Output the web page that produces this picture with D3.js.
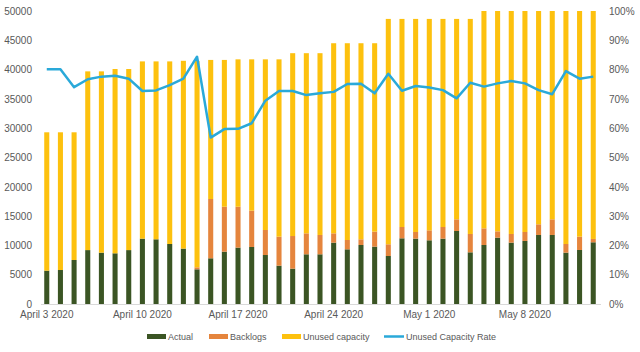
<!DOCTYPE html>
<meta charset="utf-8">
<style>
body { margin: 0; background: #fff; font: 10px "Liberation Sans", Arial, sans-serif; }
.axis text { fill: #595959; font-size: 10px; }
.axis path, .axis line { stroke: #d9d9d9; shape-rendering: crispEdges; }
.legend text { fill: #595959; font-size: 9px; }
</style>
<body>
<div id="chart"></div>
<script src="https://d3js.org/d3.v7.min.js"></script>
<script>

// days, April 3 2020 to May 13 2020
var days = ["2020-04-03","2020-04-04","2020-04-05","2020-04-06","2020-04-07","2020-04-08","2020-04-09",
  "2020-04-10","2020-04-11","2020-04-12","2020-04-13","2020-04-14","2020-04-15","2020-04-16",
  "2020-04-17","2020-04-18","2020-04-19","2020-04-20","2020-04-21","2020-04-22","2020-04-23",
  "2020-04-24","2020-04-25","2020-04-26","2020-04-27","2020-04-28","2020-04-29","2020-04-30",
  "2020-05-01","2020-05-02","2020-05-03","2020-05-04","2020-05-05","2020-05-06","2020-05-07",
  "2020-05-08","2020-05-09","2020-05-10","2020-05-11","2020-05-12","2020-05-13"];

var actual = [5690,5800,7510,9200,8760,8650,9200,11150,11040,10240,9450,5920,7800,8930,
  9620,9730,8360,6540,6030,8480,8480,10470,9330,10070,9790,8190,11210,11150,
  10870,11150,12460,8820,10070,11320,10470,10760,11780,11780,8760,9220,10530];

var backlogs = [0,0,0,0,0,0,0,0,0,0,0,340,10120,7670,
  6980,6200,4270,4950,5570,3580,3300,1590,1590,970,2560,2000,1930,1140,
  1700,1990,1990,3130,2840,1080,1480,1530,1820,2670,1480,2270,570];

var unused = [23610,23500,21790,30500,30940,31450,30900,30250,30360,31160,32050,35240,23730,25050,
  25150,25820,29120,30260,31200,30740,31020,32440,33580,33460,32150,38460,35510,36360,
  36080,35510,34200,36700,37090,37600,38050,37710,36400,35550,39760,38510,38900];

var unusedRate = [80.1,80.1,74.0,76.7,77.6,77.9,76.9,72.7,72.9,74.7,76.9,84.4,56.8,59.7,
  59.8,61.7,69.4,72.7,72.7,71.3,71.9,72.4,75.1,75.2,71.9,78.6,72.8,74.4,
  73.9,73.0,70.2,75.5,74.2,75.3,76.1,75.3,73.0,71.6,79.5,76.9,77.6];

var tickDays = ["2020-04-03","2020-04-10","2020-04-17","2020-04-24","2020-05-01","2020-05-08"];
var tickLabels = ["April 3 2020","April 10 2020","April 17 2020","April 24 2020","May 1 2020","May 8 2020"];

var seriesNames = ["Actual", "Backlogs", "Unused capacity"];
var seriesKeys = ["actual", "backlogs", "unused"];
var colors = ["#3b5524", "#e5853d", "#fdc10e"];
var lineColor = "#2aa9d9";

var width = 640, height = 352,
    margin = {top: 11, right: 40, bottom: 48, left: 40};

var rows = days.map(function(d, i) {
  return {day: d, actual: actual[i], backlogs: backlogs[i], unused: unused[i], rate: unusedRate[i] / 100};
});

var svg = d3.select("#chart").append("svg")
  .attr("width", width)
  .attr("height", height);

var x = d3.scaleBand().domain(days).range([margin.left, width - margin.right]).paddingInner(0.63).paddingOuter(0.31);
var y = d3.scaleLinear().domain([0, 50000]).range([height - margin.bottom, margin.top]);
var y2 = d3.scaleLinear().domain([0, 1]).range([height - margin.bottom, margin.top]);

var stacked = d3.stack().keys(seriesKeys)(rows);

svg.append("g").selectAll("g")
  .data(stacked)
  .enter().append("g")
  .attr("fill", function(d, i) { return colors[i]; })
  .selectAll("rect")
  .data(function(d) { return d; })
  .enter().append("rect")
  .attr("x", function(d) { return x(d.data.day); })
  .attr("y", function(d) { return y(d[1]); })
  .attr("width", x.bandwidth())
  .attr("height", function(d) { return y(d[0]) - y(d[1]); });

// x axis
svg.append("g")
  .attr("class", "axis")
  .attr("transform", "translate(0," + (height - margin.bottom) + ")")
  .call(d3.axisBottom(x).tickValues(tickDays).tickSize(0).tickPadding(7)
    .tickFormat(function(d) { return tickLabels[tickDays.indexOf(d)]; }));

// left axis
svg.append("g")
  .attr("class", "axis")
  .attr("transform", "translate(" + (margin.left - 8) + ",0)")
  .call(d3.axisLeft(y).tickValues(d3.range(0, 50001, 5000)).tickFormat(d3.format("d")).tickSize(0).tickPadding(0))
  .call(function(g) { g.select(".domain").remove(); });

// right axis
svg.append("g")
  .attr("class", "axis")
  .attr("transform", "translate(" + (width - margin.right + 9) + ",0)")
  .call(d3.axisRight(y2).ticks(10, "%").tickSize(0).tickPadding(0))
  .call(function(g) { g.select(".domain").remove(); });

// rate line
var line = d3.line()
  .x(function(d) { return x(d.day) + x.bandwidth() / 2; })
  .y(function(d) { return y2(d.rate); });

svg.append("path")
  .datum(rows)
  .attr("fill", "none")
  .attr("stroke", lineColor)
  .attr("stroke-width", 2.5)
  .attr("stroke-linejoin", "round")
  .attr("d", line);

// legend
var legend = svg.append("g").attr("class", "legend");
var legendX = [147, 209, 282];
seriesNames.forEach(function(name, i) {
  legend.append("rect")
    .attr("x", legendX[i]).attr("y", 334)
    .attr("width", 19).attr("height", 5)
    .attr("fill", colors[i]);
  legend.append("text")
    .attr("x", legendX[i] + 21).attr("y", 340)
    .text(name);
});
legend.append("line")
  .attr("x1", 384).attr("x2", 404)
  .attr("y1", 336.5).attr("y2", 336.5)
  .attr("stroke", lineColor).attr("stroke-width", 2.5);
legend.append("text")
  .attr("x", 406).attr("y", 340)
  .text("Unused Capacity Rate");

</script>
</body>
